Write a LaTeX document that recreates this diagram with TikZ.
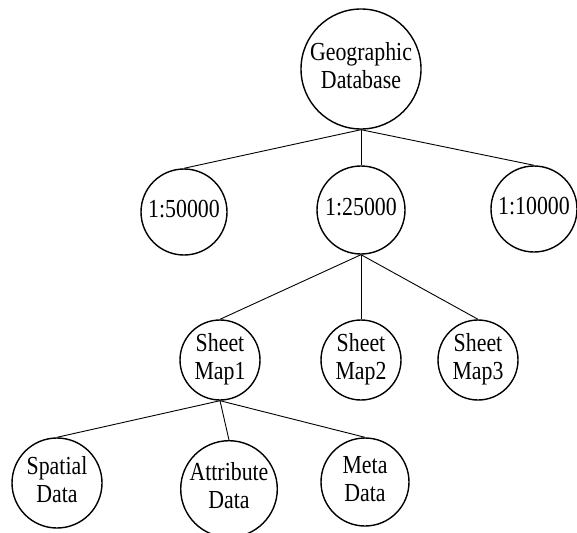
\documentclass[tikz,border=0pt]{standalone}
\usepackage{fontspec}
\setmainfont{Liberation Serif}
\usepackage{tikz}

% narrow, tall lettering as in the scanned figure
\newcommand{\bubtext}[1]{\scalebox{0.84}[1]{\begin{tabular}{@{}c@{}}#1\end{tabular}}}

\tikzset{
    bubble/.style={draw, circle, line width=1.4pt, inner sep=0pt,
        font=\fontsize{26}{28}\selectfont},
    link/.style={line width=0.9pt}
}

\begin{document}
\begin{tikzpicture}[x=1pt, y=-1pt]
            \useasboundingbox (0,0) rectangle (577,532);

            \node[bubble, minimum size=120pt] (geo) at (361,69) {\bubtext{Geographic\\Database}};

            \node[bubble, minimum size=86pt] (s50) at (184,212) {\bubtext{1:50000}};
            \node[bubble, minimum size=88pt] (s25) at (361,210) {\bubtext{1:25000}};
            \node[bubble, minimum size=86pt] (s10) at (534,209) {\bubtext{1:10000}};

            \node[bubble, minimum size=80pt] (map1) at (220,360) {\bubtext{Sheet\\Map1}};
            \node[bubble, minimum size=80pt] (map2) at (361,360) {\bubtext{Sheet\\Map2}};
            \node[bubble, minimum size=80pt] (map3) at (478,360) {\bubtext{Sheet\\Map3}};

            \node[bubble, minimum size=90pt] (spatial) at (57,483) {\bubtext{Spatial\\Data}};
            \node[bubble, minimum size=94pt] (attr) at (229,489) {\bubtext{Attribute\\Data}};
            \node[bubble, minimum size=88pt] (meta) at (365,482) {\bubtext{Meta\\Data}};

            \draw[link] (geo.south) -- (s50.north);
            \draw[link] (geo.south) -- (s25.north);
            \draw[link] (geo.south) -- (s10.north);

            \draw[link] (s25.south) -- (map1.north);
            \draw[link] (s25.south) -- (map2.north);
            \draw[link] (s25.south) -- (map3.north);

            \draw[link] (map1.south) -- (spatial.north);
            \draw[link] (map1.south) -- (attr.north);
            \draw[link] (map1.south) -- (meta.north);
        \end{tikzpicture}
\end{document}
